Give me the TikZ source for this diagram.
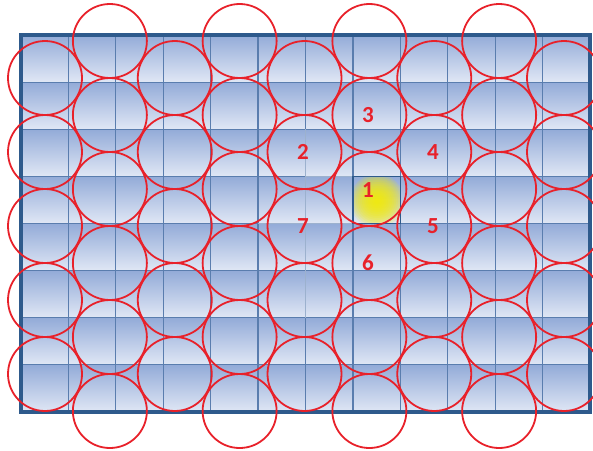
\documentclass[tikz,border=0pt]{standalone}
\usepackage{fontspec}
\newfontfamily\numfont{Carlito}
\definecolor{celltop}{HTML}{93ABD8}
\definecolor{cellbot}{HTML}{E0E7F5}
\definecolor{gridline}{HTML}{5A7DAE}
\definecolor{framecol}{HTML}{2E5A8C}
\definecolor{ringred}{HTML}{E8212A}
\definecolor{glowyellow}{HTML}{F7EE00}
\tikzset{
  cellbox/.style={top color=celltop, bottom color=cellbot},
  gridrule/.style={draw=gridline, line width=1.2pt},
  lightrule/.style={draw=gridline!60!white, line width=1.2pt},
  outerframe/.style={draw=framecol, line width=3.6pt},
  ring/.style={circle, draw=ringred, line width=1.8pt, minimum size=74pt, inner sep=0pt},
  numlabel/.style={text=ringred, font=\numfont\bfseries\fontsize{23}{23}\selectfont, inner sep=0pt},
  glowdisc/.style={fill=glowyellow, fill opacity=0.16}
}
\begin{document}
\begin{tikzpicture}[x=1pt,y=-1pt]
\useasboundingbox (0,0) rectangle (593,450);
% cells
\foreach \i in {0,...,11}{
  \foreach \j in {0,...,7}{
    \shade[cellbox] ({21+\i*47.4167},{35+\j*47.125}) rectangle ++(47.4167,47.125);
  }
}
% glow in cell 1
\begin{scope}
  \clip ({21+7*47.4167},{35+3*47.125}) rectangle ++(47.4167,47.125);
  \foreach \r in {27,25,...,3}{
    \fill[glowdisc] (377,201) circle (\r);
  }
\end{scope}
% grid lines
\foreach \i in {1,...,11}{
  \draw[gridrule] ({21+\i*47.4167},35) -- ({21+\i*47.4167},412);
}
\foreach \j in {1,...,7}{
  \draw[gridrule] (21,{35+\j*47.125}) -- (590,{35+\j*47.125});
}
% lighter segments
\draw[lightrule] ({21+6*47.4167},{35+2*47.125}) -- ({21+6*47.4167},{35+6*47.125});
\draw[lightrule] ({21+5*47.4167},{35+4*47.125}) -- ({21+7*47.4167},{35+4*47.125});
\draw[lightrule] ({21+6*47.4167},{35+3*47.125}) -- ({21+7*47.4167},{35+3*47.125});
% cell 1 border
\draw[draw=framecol, line width=1.2pt] ({21+7*47.4167},{35+3*47.125}) rectangle ++(47.4167,47.125);
% frame
\draw[outerframe] (21,35) rectangle (590,412);
% rings
\foreach \k in {0,2,4,6,8}{
  \foreach \m in {0,...,4}{
    \node[ring] (r-\k-\m) at ({45+\k*64.875},{78+\m*74}) {};
  }
}
\foreach \k in {1,3,5,7}{
  \foreach \m in {0,...,5}{
    \node[ring] (r-\k-\m) at ({45+\k*64.875},{41+\m*74}) {};
  }
}
% numbers
\node[numlabel] (n1) at (368,190) {1};
\node[numlabel] (n2) at (303,152) {2};
\node[numlabel] (n3) at (368,115) {3};
\node[numlabel] (n4) at (433,152) {4};
\node[numlabel] (n5) at (433,226) {5};
\node[numlabel] (n6) at (368,263) {6};
\node[numlabel] (n7) at (303,226) {7};
\end{tikzpicture}
\end{document}
